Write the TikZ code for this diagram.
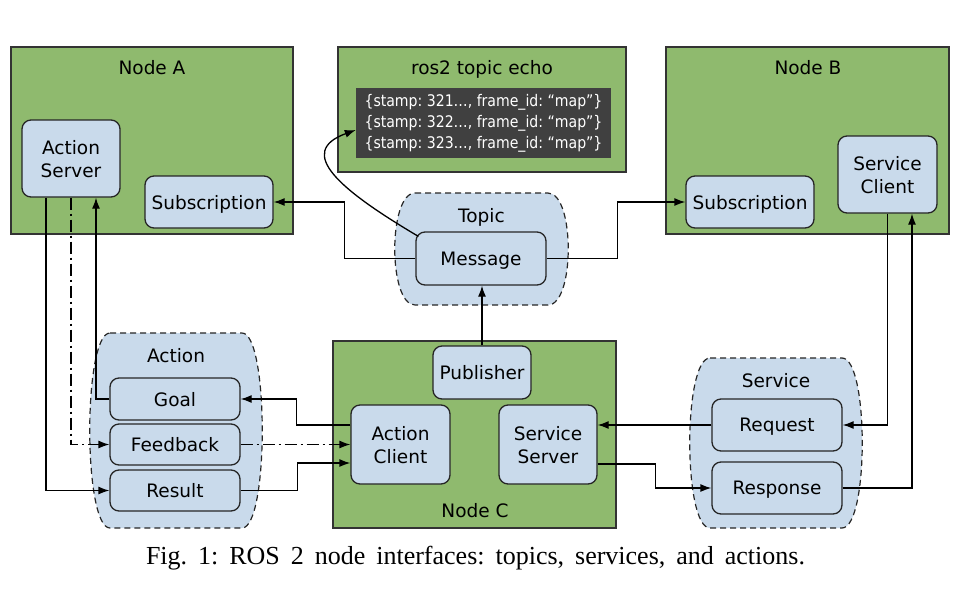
\documentclass[tikz,border=0pt]{standalone}
\usepackage{fontspec}
\setmainfont{DejaVu Sans}
\newfontfamily\capfont{Liberation Serif}
\newfontfamily\echofont[FakeStretch=0.88]{DejaVu Sans}
\usepackage{xcolor}
\usepackage{tikz}
\usetikzlibrary{arrows.meta, positioning, calc}

\definecolor{nodegreen}{RGB}{143,186,110}
\definecolor{ifblue}{RGB}{201,218,235}
\definecolor{loggray}{RGB}{64,64,64}

\begin{document}
\frenchspacing
\begin{tikzpicture}[x=1pt, y=-1pt,
    nodebox/.style={draw=black!80, fill=nodegreen, line width=1.3pt, inner sep=0pt},
    iface/.style={draw=black!85, fill=ifblue, rounded corners=9pt, line width=1.3pt,
        align=center, inner sep=0pt, text depth=0pt, font=\fontsize{18.5}{23}\selectfont},
    title/.style={font=\fontsize{18.5}{23}\selectfont, inner sep=0pt, text depth=0pt},
    cloud/.style={draw=black!85, dash pattern=on 6pt off 4pt, fill=ifblue, line width=1.2pt},
    conn/.style={-{Latex[length=11pt,width=8pt]}, line width=1.3pt},
    dashdot/.style={dash pattern=on 12pt off 4pt on 2pt off 4pt}]
        \useasboundingbox (0,0) rectangle (956,592);
        % ROS nodes
        \node[nodebox, minimum width=282pt, minimum height=187pt] (nodeA) at (152,140.5) {};
        \node[title] (nodeAtitle) at (152,67) {Node A};
        \node[nodebox, minimum width=288pt, minimum height=125pt] (echo) at (482,109.5) {};
        \node[title] (echotitle) at (482,67) {ros2 topic echo};
        \node[nodebox, minimum width=283pt, minimum height=187pt] (nodeB) at (807.5,140.5) {};
        \node[title] (nodeBtitle) at (808,67) {Node B};
        \node[nodebox, minimum width=283pt, minimum height=187pt] (nodeC) at (474.5,434.5) {};
        \node[title] (nodeCtitle) at (475,510) {Node C};
        \node[fill=loggray, text=white, minimum width=255pt, minimum height=70pt, inner sep=0pt,
            align=left, font=\echofont\fontsize{16}{21}\selectfont] (echolog) at (483.5,123)
            {\{stamp: 321…, frame\_id: “map”\}\\\{stamp: 322…, frame\_id: “map”\}\\\{stamp: 323…, frame\_id: “map”\}};
        % interface groups
        \foreach \xa/\ya/\xb/\yb/\nm/\txt in {395/193/568/305/topic/Topic,
                90/333/262/528/action/Action, 690/358/862/528/service/Service} {
            \draw[cloud] (\xa+20,\ya) -- (\xb-20,\ya) .. controls (\xb+7,\ya) and (\xb+7,\yb) .. (\xb-20,\yb)
                -- (\xa+20,\yb) .. controls (\xa-7,\yb) and (\xa-7,\ya) .. cycle;
            \node[title] (\nm) at ({(\xa+\xb)/2},\ya+22) {\txt};
        }
        % interfaces
        \node[iface, minimum width=98pt, minimum height=77pt] (asrv) at (71,158.5) {Action\\Server};
        \node[iface, minimum width=128pt, minimum height=52pt] (subA) at (209,202) {Subscription};
        \node[iface, minimum width=128pt, minimum height=52pt] (subB) at (750,202) {Subscription};
        \node[iface, minimum width=99pt, minimum height=77pt] (scli) at (887.5,174.5) {Service\\Client};
        \node[iface, minimum width=130pt, minimum height=53pt] (msg) at (481,258.5) {Message};
        \node[iface, minimum width=98pt, minimum height=53pt] (pub) at (482,372.5) {Publisher};
        \node[iface, minimum width=99pt, minimum height=79pt] (acli) at (400.5,444.5) {Action\\Client};
        \node[iface, minimum width=98pt, minimum height=79pt] (ssrv) at (548,444.5) {Service\\Server};
        \node[iface, minimum width=130pt, minimum height=42pt] (goal) at (175,399) {Goal};
        \node[iface, minimum width=130pt, minimum height=41pt] (fb) at (175,444.5) {Feedback};
        \node[iface, minimum width=130pt, minimum height=41pt] (res) at (175,490.5) {Result};
        \node[iface, minimum width=130pt, minimum height=52pt] (req) at (777,425) {Request};
        \node[iface, minimum width=130pt, minimum height=52pt] (resp) at (777,488) {Response};
        % topic
        \draw[conn] (msg.west) -- ++(-71,0) |- (subA.east);
        \draw[conn] (msg.east) -- ++(71,0) |- (subB.west);
        \draw[conn] ([xshift=3pt,yshift=-5pt]msg.north west) .. controls (340,190) and (295,152) .. ([yshift=-7pt]echolog.west);
        \draw[conn] (pub.north) -- (pub.north |- msg.south);
        % action
        \draw[conn] ([xshift=-25pt]asrv.south) |- (res.west);
        \draw[conn, dashdot] (asrv.south) |- (fb.west);
        \draw[conn] (goal.west) -| ([xshift=25pt]asrv.south);
        \draw[conn] ([yshift=19.5pt]acli.west) -- ++(-54,0) |- (goal.east);
        \draw[conn, dashdot] (fb.east) -- (acli.west);
        \draw[conn] (res.east) -- ++(57,0) |- ([yshift=-18.5pt]acli.west);
        % service
        \draw[conn] (req.west) -- (req.west -| ssrv.east);
        \draw[conn] ([yshift=-19.5pt]ssrv.east) -- ++(58,0) |- (resp.west);
        \draw[conn] (scli.south) |- (req.east);
        \draw[conn] (resp.east) -| ([xshift=24.5pt]scli.south);
        % caption
        \node[font=\capfont\fontsize{26}{30}\selectfont, inner sep=0pt] (caption) at (475.5,558)
            {\makebox[659pt][s]{Fig. 1: ROS 2 node interfaces: topics, services, and actions.}};
\end{tikzpicture}
\end{document}
